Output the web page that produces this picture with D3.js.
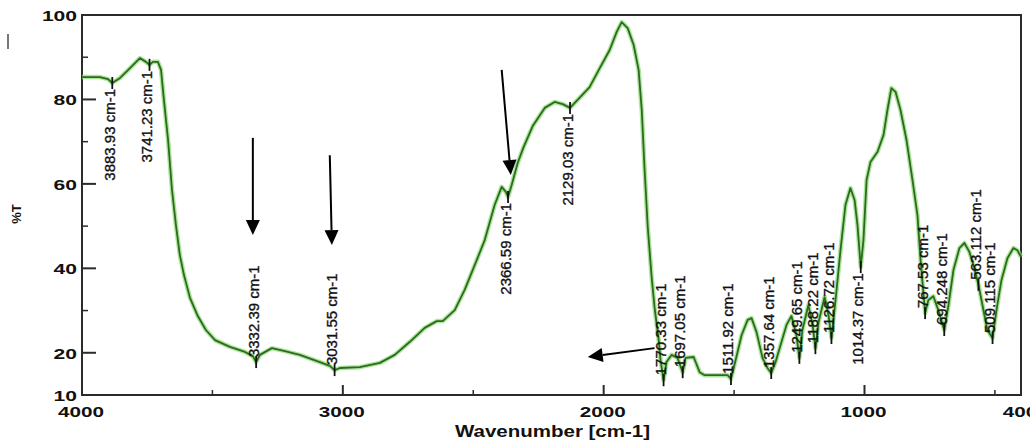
<!DOCTYPE html>
<html>
<head>
<meta charset="utf-8">
<script src="https://cdn.jsdelivr.net/npm/d3@7/dist/d3.min.js"></script>
<style>
  html, body { margin: 0; padding: 0; background: #fff; }
  svg { display: block; }
</style>
</head>
<body>
<svg id="chart" width="1030" height="442"></svg>
<script>
// IR spectrum: wavenumber (cm-1) vs transmittance (%T)
const wavenumber = [
  4000, 3931, 3900, 3883.93, 3854, 3816, 3778, 3755, 3741.23, 3728, 3709, 3697, 3686, 3670,
  3655, 3640, 3625, 3609, 3586, 3556, 3525, 3490, 3433, 3375, 3345, 3332.39, 3318, 3272,
  3222, 3165, 3088, 3050, 3031.55, 3011, 2935, 2858, 2801, 2743, 2686, 2640, 2617, 2571,
  2533, 2494, 2456, 2418, 2391, 2375, 2366.59, 2353, 2330, 2307, 2272, 2226, 2188, 2157,
  2129.03, 2100, 2054, 2015, 1977, 1950, 1931, 1908, 1885, 1866, 1854, 1843, 1831, 1816,
  1805, 1789, 1782, 1770.33, 1759, 1740, 1717, 1697.05, 1686, 1655, 1632, 1613, 1525,
  1511.92, 1494, 1471, 1448, 1433, 1414, 1391, 1372, 1357.64, 1341, 1322, 1299, 1280, 1261,
  1249.65, 1238, 1215, 1199, 1188.22, 1176, 1153, 1138, 1126.72, 1111, 1092, 1073, 1054,
  1038, 1027, 1014.37, 1004, 992, 977, 950, 927, 912, 897, 881, 862, 839, 816, 797, 785,
  767.53, 755, 736, 717, 694.248, 678, 659, 636, 617, 598, 579, 563.112, 540, 529, 509.115,
  494, 475, 452, 429, 414, 400
];
const transmittance = [
  85.3, 85.3, 84.8, 83.9, 85.1, 87.4, 89.8, 88.9, 88.2, 88.9, 88.9, 87.0, 79.9, 70.4,
  58.6, 50.3, 43.2, 38.4, 33.0, 28.7, 25.4, 23.0, 21.4, 20.2, 19.2, 17.8, 19.5, 21.1,
  20.4, 19.5, 17.8, 16.9, 15.9, 16.4, 16.6, 17.6, 19.5, 22.6, 25.9, 27.5, 27.5, 30.1,
  34.9, 40.8, 46.7, 55.0, 59.3, 58.1, 56.9, 59.7, 64.9, 68.7, 73.7, 78.0, 79.4, 78.9,
  78.0, 79.9, 82.9, 87.4, 91.7, 96.0, 98.3, 96.9, 92.9, 87.0, 77.5, 63.3, 49.8, 37.9,
  30.8, 23.0, 18.3, 13.5, 17.8, 19.5, 18.8, 15.4, 18.8, 19.0, 15.4, 14.7, 14.7,
  13.8, 18.3, 24.2, 27.8, 28.2, 24.9, 18.8, 16.4, 15.2, 17.8, 21.8, 26.6, 28.7, 24.2,
  18.8, 25.4, 31.3, 26.6, 21.1, 27.3, 33.2, 28.9, 23.5, 32.5, 44.3, 55.0, 59.0,
  56.2, 50.3, 40.3, 46.7, 60.9, 65.2, 67.6, 71.6, 77.5, 82.7, 81.8, 77.5, 70.4, 60.9, 52.6, 42.0,
  29.4, 32.5, 33.4, 30.1, 25.4, 31.3, 39.6, 44.8, 46.0, 43.9, 40.1, 36.1, 28.9, 25.4, 23.5,
  30.1, 37.2, 42.4, 44.8, 44.3, 42.7
];

// Peak picks and where each label sits relative to the trace
const peakLabels = [3883.93, 3741.23, 3332.39, 3031.55, 2366.59, 2129.03, 1770.33, 1697.05,
  1511.92, 1357.64, 1249.65, 1188.22, 1126.72, 1014.37, 767.53, 694.248, 563.112, 509.115];
const peakSide = ["below", "below", "above", "above", "below", "below", "above", "above",
  "above", "above", "above", "above", "above", "below", "above", "above", "above", "above"];

// Axis ticks
const yTickLabels = [100, 80, 60, 40, 20, 10];
const yMajorTicks = [20, 40, 60, 80];
const yMinorTicks = [30, 50, 70, 90];
const xTickLabels = [4000, 3000, 2000, 1000, 400];
const xMajorTicks = [3000, 2000, 1000];
const xMinorTicks = [3500, 2500, 1500, 500];

// Annotation arrows: [wavenumber, %T] start and tip
const arrowFrom = [[3345, 70.9], [3050, 66.8], [2391, 87.0], [1805, 21.1]];
const arrowTo   = [[3345, 47.9], [3042, 45.5], [2356, 62.1], [2061, 19.0]];

const svg = d3.select("#chart");
const x = d3.scaleLinear().domain([4000, 400]).range([82, 1021]);
const y = d3.scaleLinear().domain([10, 100]).range([395, 15]);

svg.append("rect").attr("width", 1030).attr("height", 442).attr("fill", "#fff");

// stray mark at the far left edge
svg.append("line").attr("x1", 8).attr("x2", 8).attr("y1", 34).attr("y2", 49)
  .attr("stroke", "#777").attr("stroke-width", 2);

const axisColor = "#2b2b2b";
const font = "'Liberation Sans', Arial, sans-serif";

// ticks (drawn inward)
const g = svg.append("g");
g.selectAll(".ymaj").data(yMajorTicks).join("line")
  .attr("x1", x(4000)).attr("x2", x(4000) + 14)
  .attr("y1", d => y(d)).attr("y2", d => y(d))
  .attr("stroke", axisColor).attr("stroke-width", 2);
g.selectAll(".ymin").data(yMinorTicks).join("line")
  .attr("x1", x(4000)).attr("x2", x(4000) + 6)
  .attr("y1", d => y(d)).attr("y2", d => y(d))
  .attr("stroke", axisColor).attr("stroke-width", 1.5);
g.selectAll(".xmaj").data(xMajorTicks).join("line")
  .attr("x1", d => x(d)).attr("x2", d => x(d))
  .attr("y1", y(10)).attr("y2", y(10) - 10)
  .attr("stroke", axisColor).attr("stroke-width", 2);
g.selectAll(".xmin").data(xMinorTicks).join("line")
  .attr("x1", d => x(d)).attr("x2", d => x(d))
  .attr("y1", y(10)).attr("y2", y(10) - 5)
  .attr("stroke", axisColor).attr("stroke-width", 1.5);

// frame
svg.append("rect")
  .attr("x", x(4000)).attr("y", y(100))
  .attr("width", x(400) - x(4000)).attr("height", y(10) - y(100))
  .attr("fill", "none").attr("stroke", axisColor).attr("stroke-width", 2);

// tick labels
svg.selectAll(".ylab").data(yTickLabels).join("text")
  .attr("x", 77).attr("y", d => y(d) + 6)
  .attr("text-anchor", "end")
  .attr("font-family", font).attr("font-weight", "bold").attr("font-size", 15)
  .attr("textLength", d => String(d).length * 11.7)
  .attr("lengthAdjust", "spacingAndGlyphs")
  .attr("fill", "#111")
  .text(d => d);
svg.selectAll(".xlab").data(xTickLabels).join("text")
  .attr("x", d => x(d) - 1).attr("y", 417)
  .attr("text-anchor", "middle")
  .attr("font-family", font).attr("font-weight", "bold").attr("font-size", 15)
  .attr("textLength", d => String(d).length * 11.5)
  .attr("lengthAdjust", "spacingAndGlyphs")
  .attr("fill", "#111")
  .text(d => d);

// axis titles
svg.append("text")
  .attr("x", 455).attr("y", 437)
  .attr("font-family", font).attr("font-weight", "bold").attr("font-size", 16)
  .attr("textLength", 195).attr("lengthAdjust", "spacingAndGlyphs")
  .attr("fill", "#111")
  .text("Wavenumber [cm-1]");
svg.append("text")
  .attr("transform", "translate(21,214) rotate(-90)")
  .attr("text-anchor", "middle")
  .attr("font-family", font).attr("font-weight", "bold").attr("font-size", 13)
  .attr("fill", "#111")
  .text("%T");

// spectrum trace
const pts = wavenumber.map((w, i) => [w, transmittance[i]]);
const line = d3.line().x(d => x(d[0])).y(d => y(d[1])).curve(d3.curveLinear);
svg.append("path").datum(pts).attr("d", line)
  .attr("fill", "none").attr("stroke", "#8fdc78").attr("stroke-width", 4.5)
  .attr("stroke-linejoin", "round").attr("opacity", 0.75);
svg.append("path").datum(pts).attr("d", line)
  .attr("fill", "none").attr("stroke", "#2c6a1f").attr("stroke-width", 1.8)
  .attr("stroke-linejoin", "round");

// peak markers and labels
const tAt = w => transmittance[wavenumber.indexOf(w)];
const peaks = peakLabels.map((w, i) => ({ w, t: tAt(w), side: peakSide[i] }));
const pg = svg.append("g");
pg.selectAll(".pmark").data(peaks).join("line")
  .attr("x1", d => x(d.w)).attr("x2", d => x(d.w))
  .attr("y1", d => y(d.t) - 6).attr("y2", d => y(d.t) + 6)
  .attr("stroke", "#111").attr("stroke-width", 1.8);
pg.selectAll(".plab").data(peaks).join("text")
  .attr("transform", d => {
    const yy = d.side === "below" ? y(d.t) + 6 : y(d.t) - 5;
    return `translate(${x(d.w) + 2.5},${yy}) rotate(-90)`;
  })
  .attr("text-anchor", d => d.side === "below" ? "end" : "start")
  .attr("font-family", font).attr("font-size", 15)
  .attr("fill", "#111").attr("stroke", "#111").attr("stroke-width", 0.35)
  .text(d => `${d.w} cm-1`);

// annotation arrows
const ag = svg.append("g");
arrowFrom.forEach((a, i) => {
  const x1 = x(a[0]), y1 = y(a[1]);
  const x2 = x(arrowTo[i][0]), y2 = y(arrowTo[i][1]);
  const ang = Math.atan2(y2 - y1, x2 - x1);
  const len = 15, half = 7;
  const bx = x2 - len * Math.cos(ang), by = y2 - len * Math.sin(ang);
  ag.append("line").attr("x1", x1).attr("y1", y1).attr("x2", bx).attr("y2", by)
    .attr("stroke", "#000").attr("stroke-width", 2);
  const px = -Math.sin(ang) * half, py = Math.cos(ang) * half;
  ag.append("path")
    .attr("d", `M${x2},${y2}L${bx + px},${by + py}L${bx - px},${by - py}Z`)
    .attr("fill", "#000");
});
</script>
</body>
</html>
